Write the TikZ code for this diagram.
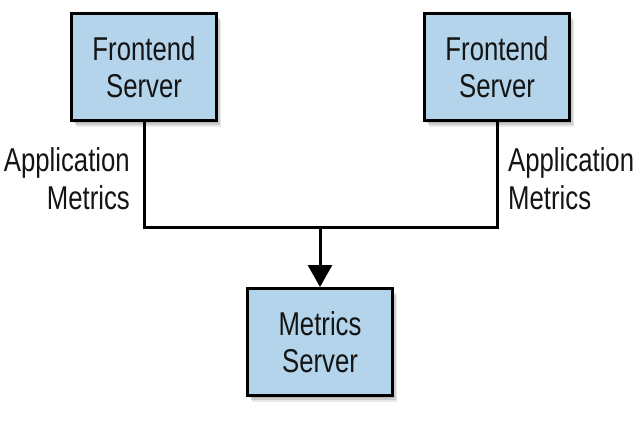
\documentclass[tikz,border=0pt]{standalone}
\usepackage{fontspec}
\setmainfont{Liberation Sans}[FakeStretch=0.78]
\usetikzlibrary{arrows.meta,shadows}
\definecolor{boxblue}{RGB}{179,212,234}
\definecolor{inkc}{RGB}{20,20,20}
\tikzset{
  srvbox/.style={draw=black, line width=3pt, fill=boxblue, inner sep=0pt,
    minimum width=145pt, minimum height=107pt, align=center, text=inkc,
    font=\fontsize{33}{37}\selectfont,
    drop shadow={shadow xshift=1.5pt, shadow yshift=-2pt, opacity=0.18, fill=black!70},
    drop shadow={shadow xshift=3pt, shadow yshift=-4pt, opacity=0.18, fill=black!70},
    drop shadow={shadow xshift=4.5pt, shadow yshift=-6pt, opacity=0.12, fill=black!70}},
  lbl/.style={inner sep=0pt, text=inkc, font=\fontsize{33}{38}\selectfont},
  conn/.style={line width=3pt},
}
\begin{document}
\begin{tikzpicture}[x=1pt,y=-1pt]
\useasboundingbox (0,0) rectangle (638,423);
\node[srvbox] (fl) at (144,67) {Frontend\\Server};
\node[srvbox] (fr) at (497,67) {Frontend\\Server};
\node[srvbox] (ms) at (320,342) {Metrics\\Server};
\coordinate (jl) at (144,227);
\coordinate (jr) at (497,227);
\coordinate (jm) at (320,227);
\draw[conn, line cap=rect] (fl.south) -- (jl) -- (jr) -- (fr.south);
\draw[conn, -{Triangle[width=24pt,length=22pt]}] (jm) -- (ms.north);
\node[lbl, align=right, anchor=east] (la) at (130,179) {Application\\Metrics};
\node[lbl, align=left, anchor=west] (ra) at (508,179) {Application\\Metrics};
\end{tikzpicture}
\end{document}
